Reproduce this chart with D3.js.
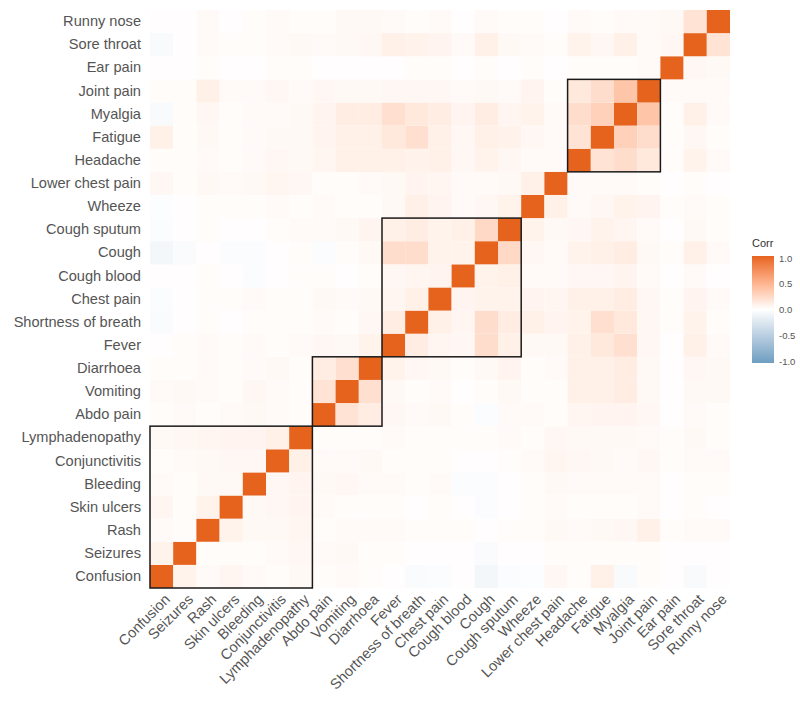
<!DOCTYPE html>
<html>
<head>
<meta charset="utf-8">
<script src="https://cdn.jsdelivr.net/npm/d3@7"></script>
<style>
  html, body { margin: 0; padding: 0; background: #fff; }
  svg { display: block; }
  text { font-family: "Liberation Sans", Arial, Helvetica, sans-serif; }
</style>
</head>
<body>
<svg id="chart" width="800" height="702"></svg>
<script>
// Symptoms in the order of the axes (x left→right, y bottom→top)
const symptoms = [
  "Confusion", "Seizures", "Rash", "Skin ulcers", "Bleeding", "Conjunctivitis",
  "Lymphadenopathy", "Abdo pain", "Vomiting", "Diarrhoea", "Fever",
  "Shortness of breath", "Chest pain", "Cough blood", "Cough", "Cough sputum",
  "Wheeze", "Lower chest pain", "Headache", "Fatigue", "Myalgia", "Joint pain",
  "Ear pain", "Sore throat", "Runny nose"
];

// Lower triangle of the correlation matrix: row i holds corr(i, 0..i-1)
const corrLower = [
  [],
  [0.08],
  [0.03, 0.02],
  [0.06, 0.02, 0.08],
  [0.03, 0.02, 0.04, 0.04],
  [0.02, 0.03, 0.04, 0.05, 0.05],
  [0.04, 0.05, 0.06, 0.07, 0.07, 0.10],
  [0.02, 0.03, 0.02, 0.03, 0.04, 0.03, 0.02],
  [0.03, 0.04, 0.03, 0.02, 0.05, 0.03, 0.02, 0.18],
  [0.02, 0.02, 0.03, 0.02, 0.03, 0.04, 0.02, 0.12, 0.20],
  [0.01, 0.02, 0.03, 0.02, 0.03, 0.02, 0.03, 0.05, 0.04, 0.08],
  [-0.04, 0.01, 0.02, 0.01, 0.02, 0.02, 0.02, 0.03, 0.02, 0.05, 0.12],
  [-0.03, 0.01, 0.02, 0.02, 0.03, 0.02, 0.02, 0.04, 0.03, 0.04, 0.06, 0.10],
  [0.01, 0.01, 0.02, 0.01, -0.03, 0.01, 0.02, 0.02, 0.01, 0.02, 0.05, 0.06, 0.07],
  [-0.08, -0.04, 0.01, -0.03, -0.03, 0.01, 0.02, -0.03, 0.02, 0.04, 0.22, 0.22, 0.08, 0.08],
  [-0.03, 0.01, 0.02, 0.01, 0.01, 0.02, 0.03, 0.03, 0.04, 0.07, 0.10, 0.12, 0.08, 0.10, 0.25],
  [-0.02, 0.01, 0.02, 0.02, 0.02, 0.03, 0.02, 0.03, 0.02, 0.02, 0.04, 0.10, 0.07, 0.03, 0.05, 0.08],
  [0.05, 0.02, 0.04, 0.03, 0.04, 0.06, 0.05, 0.02, 0.02, 0.03, 0.04, 0.07, 0.06, 0.03, 0.03, 0.04, 0.10],
  [0.02, 0.02, 0.03, 0.02, 0.03, 0.05, 0.04, 0.06, 0.10, 0.10, 0.10, 0.08, 0.10, 0.05, 0.08, 0.05, 0.03, 0.03],
  [0.10, 0.02, 0.04, 0.02, 0.03, 0.04, 0.04, 0.07, 0.10, 0.10, 0.15, 0.20, 0.10, 0.05, 0.10, 0.08, 0.05, 0.03, 0.18],
  [-0.05, 0.02, 0.05, 0.02, 0.03, 0.03, 0.04, 0.07, 0.12, 0.12, 0.20, 0.15, 0.12, 0.07, 0.12, 0.06, 0.08, 0.03, 0.22, 0.30],
  [0.02, 0.02, 0.10, 0.03, 0.03, 0.05, 0.03, 0.05, 0.04, 0.04, 0.05, 0.05, 0.05, 0.03, 0.04, 0.03, 0.07, 0.02, 0.15, 0.22, 0.38],
  [0.01, 0.01, 0.02, 0.01, 0.01, 0.02, 0.02, 0.01, 0.01, 0.01, 0.01, 0.02, 0.02, 0.01, 0.02, 0.01, 0.02, 0.01, 0.02, 0.02, 0.02, 0.03],
  [-0.05, 0.01, 0.03, 0.02, 0.02, 0.03, 0.04, 0.03, 0.04, 0.05, 0.10, 0.08, 0.07, 0.03, 0.10, 0.04, 0.03, 0.02, 0.08, 0.05, 0.10, 0.03, 0.05],
  [0.01, 0.01, 0.03, 0.01, 0.02, 0.03, 0.02, 0.02, 0.04, 0.04, 0.03, 0.02, 0.03, 0.01, 0.03, 0.02, 0.02, 0.01, 0.03, 0.02, 0.03, 0.03, 0.04, 0.18]
];

// Hierarchical-cluster groups outlined on the matrix: [first, last] symptom
const clusters = [
  ["Confusion", "Lymphadenopathy"],
  ["Abdo pain", "Diarrhoea"],
  ["Fever", "Cough sputum"],
  ["Headache", "Joint pain"]
];

// Legend ticks
const legendTicks = [-1, -0.5, 0, 0.5, 1];

// ---- build long-form cells from the symmetric matrix ----
const n = symptoms.length;
function corr(i, j) {
  if (i === j) return 1;
  return i > j ? corrLower[i][j] : corrLower[j][i];
}
const cells = [];
for (let i = 0; i < n; i++) {
  for (let j = 0; j < n; j++) {
    cells.push({ x: symptoms[i], y: symptoms[j], value: corr(i, j) });
  }
}

// ---- layout ----
const panel = { left: 150, top: 10, width: 580, height: 578 };
const svg = d3.select("#chart");

const x = d3.scaleBand().domain(symptoms)
  .range([panel.left, panel.left + panel.width]).padding(0);
const y = d3.scaleBand().domain(symptoms)
  .range([panel.top + panel.height, panel.top]).padding(0);

const lowCol = "#6D9EC1", midCol = "#FFFFFF", highCol = "#E6631E";
const color = d3.scaleLinear().domain([-1, 0, 1])
  .range([lowCol, midCol, highCol]).interpolate(d3.interpolateLab).clamp(true);

// tiles
svg.append("g").selectAll("rect").data(cells).join("rect")
  .attr("x", d => x(d.x))
  .attr("y", d => y(d.y))
  .attr("width", x.bandwidth())
  .attr("height", y.bandwidth())
  .attr("fill", d => color(d.value));

// cluster rectangles
svg.append("g").selectAll("rect").data(clusters).join("rect")
  .attr("x", d => x(d[0]))
  .attr("y", d => y(d[1]))
  .attr("width", d => x(d[1]) + x.bandwidth() - x(d[0]))
  .attr("height", d => y(d[0]) + y.bandwidth() - y(d[1]))
  .attr("fill", "none")
  .attr("stroke", "#1a1a1a")
  .attr("stroke-width", 1.5);

// axes
const axisFont = 14.6, axisCol = "#555555";

const yAxis = svg.append("g")
  .attr("transform", `translate(${panel.left},0)`)
  .call(d3.axisLeft(y).tickSize(0).tickPadding(9));
yAxis.select(".domain").remove();
yAxis.selectAll("text")
  .attr("fill", axisCol)
  .style("font-size", axisFont + "px")
  .style("font-family", '"Liberation Sans", Arial, sans-serif');

const xAxis = svg.append("g")
  .attr("transform", `translate(0,${panel.top + panel.height})`)
  .call(d3.axisBottom(x).tickSize(0));
xAxis.select(".domain").remove();
xAxis.selectAll("text")
  .attr("fill", axisCol)
  .style("font-size", axisFont + "px")
  .style("font-family", '"Liberation Sans", Arial, sans-serif')
  .attr("text-anchor", "end")
  .attr("x", 0).attr("y", 0).attr("dy", "0.71em")
  .attr("transform", "translate(2,5) rotate(-45)");

// legend
const legend = { x: 752, top: 256, bottom: 363, width: 22 };
const defs = svg.append("defs");
const grad = defs.append("linearGradient")
  .attr("id", "corrGrad").attr("x1", 0).attr("x2", 0).attr("y1", 1).attr("y2", 0);
d3.range(0, 1.0001, 0.05).forEach(t => {
  grad.append("stop").attr("offset", t).attr("stop-color", color(-1 + 2 * t));
});

svg.append("text")
  .attr("x", legend.x).attr("y", legend.top - 9)
  .attr("fill", "#333")
  .style("font-size", "11px")
  .text("Corr");

svg.append("rect")
  .attr("x", legend.x).attr("y", legend.top)
  .attr("width", legend.width).attr("height", legend.bottom - legend.top)
  .attr("fill", "url(#corrGrad)");

const ly = d3.scaleLinear().domain([-1, 1]).range([legend.bottom - 2, legend.top + 2]);
const lAxis = svg.append("g")
  .attr("transform", `translate(${legend.x + legend.width},0)`)
  .call(d3.axisRight(ly).tickValues(legendTicks).tickSize(0).tickPadding(5)
    .tickFormat(v => d3.format(".1f")(v).replace("\u2212", "-")));
lAxis.select(".domain").remove();
lAxis.selectAll("text")
  .attr("fill", axisCol)
  .style("font-size", "9.5px")
  .style("font-family", '"Liberation Sans", Arial, sans-serif');
</script>
</body>
</html>
